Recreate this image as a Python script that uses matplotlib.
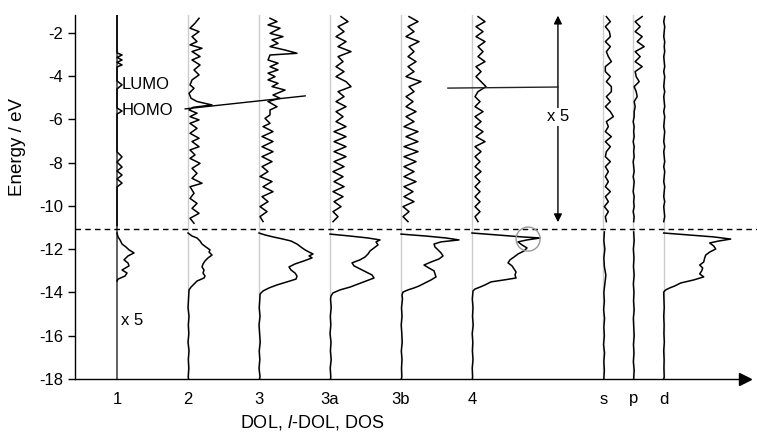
import matplotlib
matplotlib.use("Agg")
import matplotlib.pyplot as plt
from matplotlib.patches import Ellipse

plt.rcParams['font.family'] = ['Liberation Sans', 'DejaVu Sans']
plt.rcParams['axes.unicode_minus'] = False
plt.rcParams['mathtext.fontset'] = 'custom'
plt.rcParams['mathtext.it'] = 'Liberation Sans:italic'
plt.rcParams['mathtext.rm'] = 'Liberation Sans'

# columns along the x axis
COLS = ["1", "2", "3", "3a", "3b", "4", "s", "p", "d"]
POS = [1, 2, 3, 4, 5, 6, 7.85, 8.27, 8.70]
X_SCALE = 1 / 71.0  # curve amplitude -> column units

# shared energy grid for the upper (x5) part
E_UP = [-1.244, -1.476, -1.707, -1.938, -2.169, -2.401, -2.632, -2.863, -3.094, -3.326,
        -3.557, -3.788, -4.019, -4.250, -4.482, -4.713, -4.944, -5.175, -5.407, -5.638,
        -5.869, -6.100, -6.331, -6.563, -6.794, -7.025, -7.256, -7.488, -7.719, -7.950,
        -8.181, -8.412, -8.644, -8.875, -9.106, -9.337, -9.568, -9.800, -10.031, -10.262,
        -10.493, -10.724]
UP_3A = [11, 18, 8, 14, 6, 16, 8, 21, 8, 13, 6, 14, 6, 16, 21, 8, 14, 6, 16, 6, 13, 6,
         16, 4, 16, 4, 16, 4, 16, 4, 14, 3, 13, 4, 14, 3, 13, 4, 11, 3, 8, 3]
UP_3B = [8, 17, 7, 13, 5, 18, 8, 13, 7, 15, 7, 13, 5, 20, 8, 13, 5, 12, 5, 15, 5, 13,
         3, 17, 5, 17, 3, 17, 3, 15, 3, 13, 3, 15, 3, 12, 3, 13, 2, 8, 2, 7]
UP_4 = [6, 13, 4, 11, 4, 13, 6, 11, 6, 13, 4, 9, 4, 9, 14, 6, 3, 8, 3, 11, 3, 9, 3, 11,
        4, 13, 3, 9, 3, 8, 3, 9, 3, 8, 3, 8, 3, 8, 3, 8, 3, 6]
UP_S = [3, 7, 2, 6, 7, 2, 7, 3, 5, 8, 2, 2, 7, 3, 8, 8, 3, 7, 2, 7, 10, 3, 5, 2, 8, 2,
        7, 3, 2, 7, 2, 5, 2, 5, 2, 7, 2, 5, 1, 5, 2, 3]
UP_P = [9, 2, 7, 2, 9, 4, 11, 2, 7, 2, 9, 2, 3, 6, 1, 3, 4, 1, 2, 1,
        1, 0, 1, 0.5, 1, 0, 1, 0.5, 1, 0, 0.5, 1, 0, 1, 0.5, 0, 1, 0.5, 1, 0, 1, 0.5]
UP_D = [1, 0, 1, 0.5, 0, 1, 0.5, 1, 0, 0.5, 1, 0, 1, 0.5, 0, 1, 0, 0.5, 1, 0, 1,
        0.5, 0, 1, 0.5, 0, 1, 0, 0.5, 1, 0, 1, 0.5, 0, 1, 0.5, 0, 1, 0, 0.5, 1, 0]

E_UP_1 = [-1.17, -2.92, -3.02, -3.13, -3.25, -3.36, -3.48, -3.57, -4.22, -4.40, -4.59,
          -5.47, -5.61, -5.75, -7.50, -7.73, -7.97, -8.20, -8.38, -8.57, -8.75, -8.94,
          -9.12, -10.9]
UP_1 = [0, 0, 5, 0, 5, 0, 5, 0, 0, 5, 0, 0, 5, 0, 0, 5, 0, 5, 0, 5, 0, 5, 0, 0]

E_UP_2 = [-1.32, -1.55, -1.78, -1.94, -2.17, -2.40, -2.55, -2.71, -2.86, -3.09, -3.25,
          -3.48, -3.71, -3.94, -4.17, -4.40, -4.56, -4.79, -5.02, -5.17, -5.33, -5.44,
          -5.56, -5.71, -5.87, -6.02, -6.18, -6.41, -6.64, -6.87, -7.02, -7.26, -7.41,
          -7.64, -7.80, -8.03, -8.26, -8.49, -8.72, -8.95, -9.11, -9.41, -9.65, -9.88,
          -10.11, -10.34, -10.57, -10.80]
UP_2 = [11, 7, 2, 11, 4, 9, 2, 14, 4, 12, 4, 12, 6, 11, 4, 2, 6, 1, 3, 9, 24, 5, 1, 9,
        2, 11, 2, 9, 2, 11, 4, 11, 2, 7, 2, 12, 4, 9, 4, 14, 2, 6, 2, 9, 4, 11, 2, 6]

E_UP_3 = [-1.32, -1.475, -1.63, -1.78, -2.02, -2.17, -2.32, -2.48, -2.63, -2.79, -2.94,
          -3.02, -3.25, -3.40, -3.56, -3.71, -3.86, -4.02, -4.17, -4.33, -4.48, -4.64,
          -4.87, -5.02, -5.17, -5.41, -5.56, -5.79, -5.95, -6.18, -6.33, -6.56, -6.79,
          -7.02, -7.26, -7.49, -7.72, -7.95, -8.18, -8.41, -8.64, -8.87, -9.11, -9.34,
          -9.57, -9.80, -10.03, -10.26, -10.49, -10.72]
UP_3 = [11, 18, 9, 21, 11, 24, 13, 19, 11, 26, 38, 11, 9, 19, 11, 19, 9, 16, 9, 19, 13,
        26, 14, 21, 9, 18, 11, 11, 6, 11, 4, 14, 3, 14, 3, 14, 3, 13, 3, 9, 1, 13, 4, 14,
        3, 9, 1, 8, 1, 4]

# lower part (valence band)
E_LO_1 = [-11.25, -11.43, -11.57, -11.76, -11.90, -12.03, -12.17, -12.31, -12.49, -12.64,
          -12.77, -12.96, -13.10, -13.24, -13.38, -13.47]
LO_1 = [0, 1, 3, 5, 9, 12, 17, 11, 7, 11, 12, 5, 10, 8, 1, 0]

E_LO_2 = [-11.25, -11.39, -11.48, -11.62, -11.76, -11.90, -12.03, -12.13, -12.27, -12.40,
          -12.54, -12.68, -12.82, -12.96, -13.10, -13.24, -13.33, -13.47, -13.61, -13.75,
          -13.88]
LO_2 = [0, 4, 9, 12, 14, 18, 22, 21, 24, 20, 17, 15, 14, 16, 15, 17, 16, 9, 6, 3, 1]

E_LO_3 = [-11.25, -11.34, -11.43, -11.53, -11.62, -11.76, -11.90, -12.03, -12.13, -12.22,
          -12.31, -12.40, -12.54, -12.68, -12.82, -12.96, -13.10, -13.24, -13.38, -13.51,
          -13.65, -13.79, -13.93, -14.07]
LO_3 = [0, 6, 14, 24, 32, 38, 42, 46, 50, 54, 50, 53, 45, 36, 30, 32, 36, 38, 37, 28,
        18, 10, 4, 1]

E_LO_3A = [-11.30, -11.39, -11.48, -11.57, -11.66, -11.80, -11.94, -12.08, -12.22, -12.36,
           -12.49, -12.63, -12.77, -12.91, -13.05, -13.19, -13.33, -13.47, -13.61, -13.75,
           -13.88, -14.02, -14.16]
LO_3A = [0, 20, 38, 50, 46, 48, 44, 40, 38, 35, 30, 22, 24, 30, 36, 42, 44, 36, 28, 20,
         10, 3, 1]

E_LO_3B = [-11.30, -11.39, -11.48, -11.57, -11.66, -11.76, -11.90, -12.03, -12.17, -12.31,
           -12.45, -12.59, -12.73, -12.87, -13.00, -13.14, -13.28, -13.42, -13.56, -13.70,
           -13.79, -13.88, -13.98, -14.12]
LO_3B = [0, 25, 45, 58, 40, 33, 34, 37, 40, 42, 38, 30, 23, 28, 33, 34, 35, 30, 24, 18,
         13, 7, 2, 1]

E_LO_4 = [-11.25, -11.34, -11.43, -11.48, -11.57, -11.66, -11.80, -11.94, -12.08, -12.22,
          -12.36, -12.49, -12.63, -12.77, -12.91, -13.05, -13.19, -13.33, -13.42, -13.51,
          -13.65, -13.75, -13.84, -13.93]
LO_4 = [0, 25, 50, 68, 55, 46, 50, 55, 52, 46, 42, 38, 36, 40, 42, 44, 43, 44, 32, 19,
        13, 8, 3, 1]

E_LO_D = [-11.25, -11.34, -11.43, -11.53, -11.62, -11.71, -11.85, -11.99, -12.13, -12.27,
          -12.40, -12.59, -12.73, -12.87, -13.00, -13.14, -13.28, -13.42, -13.56, -13.70,
          -13.79, -13.88, -13.98]
LO_D = [0, 25, 50, 67, 55, 46, 50, 52, 46, 42, 41, 40, 36, 39, 38, 36, 40, 30, 17, 11,
        6, 2, 0]

E_TAIL = [-14.3, -14.7, -15.1, -15.5, -15.9, -16.3, -16.7, -17.1, -17.5, -17.9, -18.0]
TAIL_2 = [0.5, 0, 1, 0.3, 0.8, 0, 1, 0.3, 0.8, 0.2, 0.5]
TAIL_3 = [0.8, 0.2, 1, 0, 0.6, 1.2, 0.2, 0.8, 0, 1, 0.5]
TAIL_3A = [0.5, 1.2, 0.3, 0.8, 0, 1, 0.4, 1.2, 0.2, 0.8, 0.5]
TAIL_3B = [1.5, 0.5, 1, 0.2, 0.8, 1.2, 0.3, 1, 0.5, 0.8, 0.3]
TAIL_4 = [0.3, 1, 0.5, 1.2, 0.2, 0.8, 0.4, 1, 0.2, 0.6, 0.3]
TAIL_D = [0.2, 0.5, 0, 0.4, 0.2, 0.6, 0, 0.4, 0.2, 0.5, 0]

E_SP_LO = [-11.2, -11.6, -12.0, -12.4, -12.8, -13.2, -13.6, -14.0, -14.4, -14.8, -15.2,
           -15.6, -16.0, -16.4, -16.8, -17.2, -17.6, -18.0]
LO_S = [1, 0.5, 1.5, 0.5, 1, 2.5, 1.5, 0.5, 1, 0.3, 1.2, 0.5, 1, 0.2, 1.2, 0.5, 1, 0.5]
LO_P = [0.5, 1, 0.2, 0.8, 0.3, 1, 0.2, 0.8, 0.4, 1, 0.2, 0.6, 1, 0.3, 0.8, 0.2, 1, 0.5]

E_GAP = -11.05
E_TOP = -1.17

fig = plt.figure(figsize=(7.57, 4.34), dpi=100)
ax = fig.add_axes([75 / 757, 55 / 434, 670 / 757, 364 / 434])
ax.set_xlim(0.408, 9.845)
ax.set_ylim(-18, E_TOP)

# baselines
for i, p in enumerate(POS):
    if i == 0:
        ax.plot([p, p], [-18, E_TOP], color='#555555', lw=1.3, zorder=1)
    else:
        ax.plot([p, p], [-18, E_TOP], color='#cccccc', lw=1.0, zorder=1)


def trace(pos, e, v, **kw):
    ax.plot([pos + a * X_SCALE for a in v], e, color='k', lw=1.1, zorder=3,
            solid_joinstyle='round', **kw)


trace(POS[0], E_UP_1, UP_1)
trace(POS[1], E_UP_2, UP_2)
trace(POS[2], E_UP_3, UP_3)
trace(POS[3], E_UP, UP_3A)
trace(POS[4], E_UP, UP_3B)
trace(POS[5], E_UP, UP_4)
trace(POS[6], E_UP, UP_S)
trace(POS[7], E_UP, UP_P)
trace(POS[8], E_UP, UP_D)

trace(POS[0], E_LO_1, LO_1)
trace(POS[1], E_LO_2 + E_TAIL, LO_2 + TAIL_2)
trace(POS[2], E_LO_3 + E_TAIL, LO_3 + TAIL_3)
trace(POS[3], E_LO_3A + E_TAIL, LO_3A + TAIL_3A)
trace(POS[4], E_LO_3B + E_TAIL, LO_3B + TAIL_3B)
trace(POS[5], E_LO_4 + E_TAIL, LO_4 + TAIL_4)
trace(POS[6], E_SP_LO, LO_S)
trace(POS[7], E_SP_LO, LO_P)
trace(POS[8], E_LO_D + E_TAIL, LO_D + TAIL_D)

# band gap separator
ax.plot([0.408, 10.01], [E_GAP, E_GAP], color='k', lw=1.0, ls=(0, (4, 3)),
        clip_on=False, zorder=2)

# HOMO / LUMO guide lines
ax.plot([1.96, 3.65], [-5.51, -4.91], color='k', lw=1.0, zorder=4)
ax.plot([5.66, 7.21], [-4.55, -4.50], color='#222222', lw=1.0, zorder=4)

# x5 double arrow
ax.annotate('', xy=(7.21, -1.2), xytext=(7.21, -10.75),
            arrowprops=dict(arrowstyle='<|-|>', color='k', lw=1.0,
                            mutation_scale=12, shrinkA=0, shrinkB=0))
ax.text(7.21, -5.88, 'x 5', ha='center', va='center', fontsize=12,
        bbox=dict(facecolor='white', edgecolor='none', pad=1), zorder=5)
ax.text(1.21, -15.3, 'x 5', ha='center', va='center', fontsize=12)
ax.text(1.07, -4.4, 'LUMO', ha='left', va='center', fontsize=12)
ax.text(1.07, -5.6, 'HOMO', ha='left', va='center', fontsize=12)

ax.add_patch(Ellipse((6.79, -11.53), 24 / 71, 24 / 21.625, fill=False,
                     edgecolor='#999999', lw=1.0, zorder=5))

# axes styling
for s in ['top', 'right']:
    ax.spines[s].set_visible(False)
ax.spines['left'].set_linewidth(1.0)
ax.spines['bottom'].set_linewidth(1.0)
ax.plot([1], [0], marker='>', ms=8, color='k', transform=ax.transAxes, clip_on=False)

ax.set_yticks(range(-2, -19, -2))
ax.tick_params(axis='y', direction='out', length=5, width=1.0, pad=3.5, labelsize=12)
ax.set_xticks(POS)
ax.set_xticklabels(COLS)
ax.tick_params(axis='x', length=0, pad=9, labelsize=12)

ax.set_ylabel('Energy / eV', fontsize=13.5)
ax.yaxis.set_label_coords(-0.073, 0.637)
ax.set_xlabel('DOL, $\\it{l}$-DOL, DOS', fontsize=13)
ax.xaxis.set_label_coords(0.354, -0.094)

fig.savefig('out.png', dpi=100)
